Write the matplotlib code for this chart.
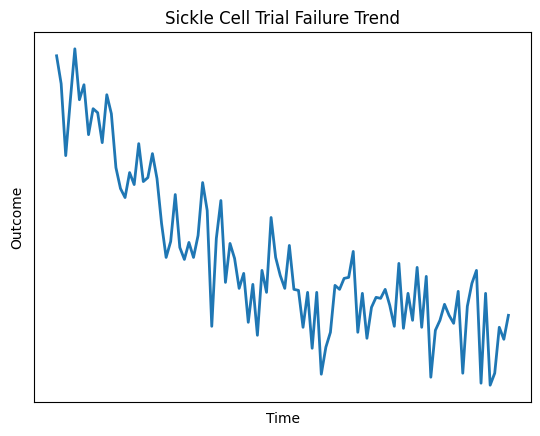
import numpy as np
import matplotlib
matplotlib.use('Agg')
from matplotlib import pyplot as plt

# 数据
time = np.arange(100)
outcome = np.array([
    34.5, 31.7, 24.5, 30.0, 35.2, 30.1, 31.6, 26.6, 29.2, 28.8,
    25.8, 30.6, 28.7, 23.3, 21.2, 20.3, 22.8, 21.6, 25.7, 21.9,
    22.3, 24.7, 22.2, 17.7, 14.3, 15.9, 20.6, 15.3, 14.1, 15.8,
    14.3, 16.5, 21.8, 19.0, 7.4, 16.2, 20.0, 11.8, 15.7, 14.2,
    11.2, 12.7, 7.8, 11.6, 6.5, 13.0, 10.8, 18.3, 14.3, 12.5,
    11.2, 15.5, 11.1, 11.0, 7.3, 10.8, 5.2, 10.8, 2.6, 5.3,
    6.8, 11.5, 11.1, 12.2, 12.3, 14.9, 6.8, 10.7, 6.2, 9.3,
    10.3, 10.2, 11.1, 9.5, 7.4, 13.7, 7.2, 10.7, 8.0, 13.3,
    7.3, 12.4, 2.3, 7.0, 8.0, 9.6, 8.5, 7.7, 10.9, 2.7,
    9.4, 11.7, 13.0, 1.7, 10.7, 1.5, 2.7, 7.3, 6.1, 8.5,
])

fig = plt.figure(figsize=(5.4, 4.36), dpi=100)
ax = fig.add_axes([34 / 540, 34 / 436, 497 / 540, 370 / 436])
ax.plot(time, outcome, color='#1f77b4', linewidth=2)
ax.set_title('Sickle Cell Trial Failure Trend')
ax.set_xlabel('Time', labelpad=7.5)
ax.set_ylabel('Outcome', labelpad=7)
ax.set_xticks([])
ax.set_yticks([])

fig.savefig('out.png', dpi=100)
